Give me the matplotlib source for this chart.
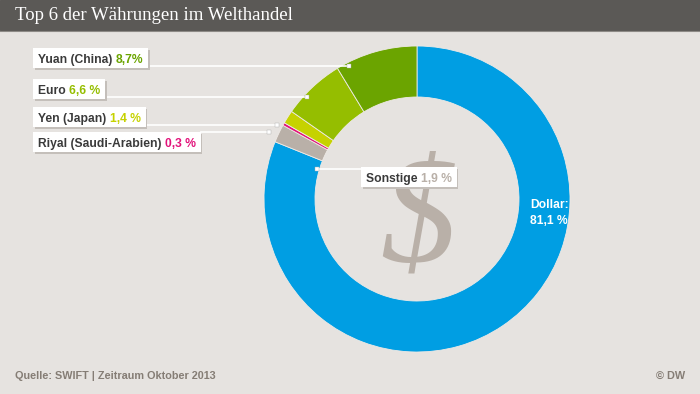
import matplotlib
matplotlib.use("Agg")
import matplotlib.pyplot as plt
from matplotlib.patches import Rectangle

# data
currencies = ["Dollar", "Sonstige", "Riyal (Saudi-Arabien)", "Yen (Japan)", "Euro", "Yuan (China)"]
shares = [81.1, 1.9, 0.3, 1.4, 6.6, 8.7]
share_labels = ["81,1 %", "1,9 %", "0,3 %", "1,4 %", "6,6 %", "8,7%"]
colors = ["#009ee3", "#b9b0a8", "#e2127a", "#c6d200", "#95be00", "#6ba400"]

title = "Top 6 der Währungen im Welthandel"
source = "Quelle: SWIFT | Zeitraum Oktober 2013"
credit = "© DW"

W, H = 700, 394
BG = "#e6e3e0"
TXT = "#3a3a3a"
SANS = ["Liberation Sans", "DejaVu Sans"]

def Y(y):
    return H - y

fig = plt.figure(figsize=(W / 100, H / 100), dpi=100, facecolor=BG)
ax = fig.add_axes([0, 0, 1, 1])
ax.set_facecolor(BG)

# donut
cx, cy, R = 417, Y(199), 153
ax.pie(shares, colors=colors, startangle=90, counterclock=False,
       center=(cx, cy), radius=R, frame=True,
       wedgeprops=dict(width=51, edgecolor="#eeeae6", linewidth=0.6))
ax.set_xlim(0, W)
ax.set_ylim(0, H)
ax.set_aspect("equal")
ax.axis("off")

# big dollar sign in the hole
ax.text(cx + 1, cy - 26, "$", fontsize=110, family=["Liberation Serif", "DejaVu Serif"],
        style="italic", color="#b9b0a8", ha="center", va="center", zorder=1)

# title bar
ax.add_patch(Rectangle((0, Y(30)), W, 30, color="#5b5956", zorder=5))
ax.plot([0, W], [Y(30.5), Y(30.5)], color="#8d8a86", lw=0.8, zorder=5)
ax.text(15, Y(15), title, fontsize=13.5, family=["Liberation Serif", "DejaVu Serif"],
        color="white", va="center", ha="left", zorder=6)

fig.canvas.draw()
renderer = fig.canvas.get_renderer()

# callout layout: (index, text x, text baseline y, dot x, dot y, line y)
callouts = [
    (5, 38, 63, 349, 66, 66),
    (4, 38, 94, 307, 97, 97),
    (3, 38, 122, 277, 125, 125),
    (2, 38, 147, 269, 132, 132),
    (1, 366, 182, 317, 169, 169),
]

for i, tx, ty, dx, dy, ly in callouts:
    name = ax.text(tx, Y(ty), currencies[i] + " ", fontsize=8.7, weight="bold",
                   family=SANS, color=TXT, ha="left", va="baseline", zorder=8)
    ext = name.get_window_extent(renderer)
    pct = ax.text(ext.x1, Y(ty), share_labels[i], fontsize=8.7, weight="bold",
                  family=SANS, color=colors[i], ha="left", va="baseline", zorder=8)
    ext2 = pct.get_window_extent(renderer)
    x0, x1 = tx - 5, ext2.x1 + 5
    top, bot = ty - 15, ty + 5
    # shadow + box
    ax.add_patch(Rectangle((x0 + 1.5, Y(bot) - 1.5), x1 - x0, bot - top,
                           color="#c4bfba", zorder=6, lw=0))
    ax.add_patch(Rectangle((x0, Y(bot)), x1 - x0, bot - top,
                           color="white", zorder=7, lw=0))
    # leader line
    if dx > x1:
        ax.plot([x1, dx], [Y(ly), Y(dy)], color="white", lw=1.2, zorder=4)
    else:
        ax.plot([dx, x0], [Y(dy), Y(ly)], color="white", lw=1.2, zorder=4)
    ax.plot(dx, Y(dy), marker="s", ms=3.5, color="white", mec="#aaaaaa", mew=0.3, zorder=9)

# dollar label inside ring
ax.text(530, Y(205), currencies[0] + ":", fontsize=8.7, weight="bold", family=SANS,
        color="white", ha="left", va="center", zorder=8)
ax.text(530, Y(221), share_labels[0], fontsize=8.7, weight="bold", family=SANS,
        color="white", ha="left", va="center", zorder=8)

# footer
ax.text(15, Y(376), source, fontsize=7.8, weight="bold", family=SANS, color="#857d75",
        ha="left", va="center", stretch="condensed")
ax.text(685, Y(376), credit, fontsize=7.8, weight="bold", family=SANS, color="#857d75",
        ha="right", va="center")

fig.savefig("out.png", dpi=100, facecolor=BG)
